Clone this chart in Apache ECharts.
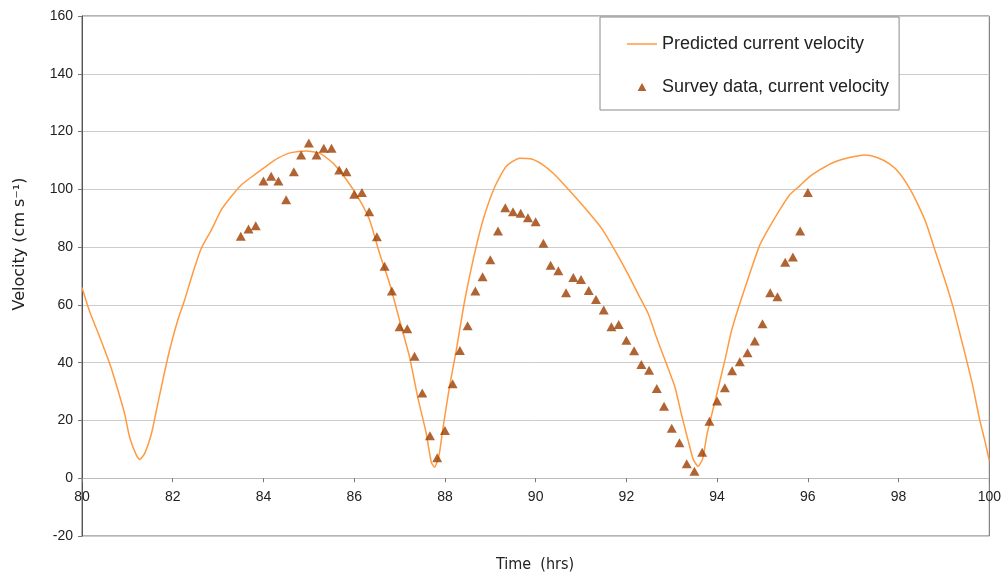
<!DOCTYPE html>
<html>
<head>
<meta charset="utf-8">
<title>Current velocity</title>
<script src="https://cdn.jsdelivr.net/npm/echarts@6.0.0/dist/echarts.min.js"></script>
<style>
  html, body { margin: 0; padding: 0; background: #ffffff; }
  #chart { width: 1004px; height: 575px; }
</style>
</head>
<body>
<div id="chart"></div>
<script>
// Model output: predicted current velocity (cm/s) against time (hrs)
var predTime = [
  80.00, 80.17, 80.39, 80.61, 80.75, 80.94, 81.05, 81.20, 81.27, 81.38,
  81.53, 81.64, 81.78, 81.93, 82.11, 82.26, 82.44, 82.63, 82.85, 83.07,
  83.29, 83.51, 83.80, 84.10, 84.32, 84.61, 84.94, 85.24, 85.53, 85.83,
  86.12, 86.34, 86.56, 86.78, 87.00, 87.22, 87.40, 87.59, 87.70, 87.77,
  87.87, 87.96, 88.10, 88.25, 88.43, 88.62, 88.84, 89.10, 89.35, 89.65,
  89.91, 90.16, 90.40, 90.75, 91.12, 91.48, 91.76, 92.03, 92.27, 92.48,
  92.66, 92.88, 93.07, 93.21, 93.36, 93.47, 93.58, 93.68, 93.78, 93.96,
  94.17, 94.32, 94.50, 94.72, 94.94, 95.16, 95.38, 95.60, 95.82, 96.04,
  96.26, 96.56, 96.92, 97.25, 97.51, 97.80, 98.02, 98.24, 98.43, 98.61,
  98.80, 99.02, 99.20, 99.35, 99.50, 99.64, 99.79, 99.90, 100.00
];
var predVelocity = [
  66.0, 57.6, 48.9, 39.7, 32.7, 22.3, 14.2, 7.9, 6.5, 8.5,
  15.4, 23.5, 33.9, 44.3, 54.7, 61.6, 70.9, 79.6, 85.9, 92.9,
  97.5, 101.5, 105.0, 108.5, 110.8, 112.7, 113.3, 112.5, 109.1, 103.3,
  96.3, 89.4, 77.8, 67.4, 54.7, 42.0, 28.1, 15.4, 5.5, 3.8,
  7.9, 17.7, 31.6, 44.3, 61.0, 75.5, 89.4, 100.9, 107.9, 110.8,
  110.5, 108.5, 105.4, 99.5, 92.9, 85.9, 78.5, 70.8, 63.4, 57.0,
  48.9, 39.7, 31.6, 22.3, 13.1, 6.7, 4.1, 6.7, 15.4, 27.0,
  40.8, 51.2, 60.5, 70.9, 80.7, 87.1, 92.9, 98.1, 101.2, 104.4,
  106.7, 109.3, 111.0, 111.9, 111.1, 108.8, 105.6, 100.4, 94.6, 88.2,
  79.0, 68.6, 59.3, 50.1, 40.8, 31.6, 20.0, 13.1, 6.0
];

// Survey measurements, 10-minute sampling
var surveyTime = [
  83.5, 83.67, 83.83, 84, 84.17, 84.33, 84.5, 84.67, 84.83, 85,
  85.17, 85.33, 85.5, 85.67, 85.83, 86, 86.17, 86.33, 86.5, 86.67,
  86.83, 87, 87.17, 87.33, 87.5, 87.67, 87.83, 88, 88.17, 88.33,
  88.5, 88.67, 88.83, 89, 89.17, 89.33, 89.5, 89.67, 89.83, 90,
  90.17, 90.33, 90.5, 90.67, 90.83, 91, 91.17, 91.33, 91.5, 91.67,
  91.83, 92, 92.17, 92.33, 92.5, 92.67, 92.83, 93, 93.17, 93.33,
  93.5, 93.67, 93.83, 94, 94.17, 94.33, 94.5, 94.67, 94.83, 95,
  95.17, 95.33, 95.5, 95.67, 95.83, 96
];
var surveyVelocity = [
  83.8, 86.3, 87.4, 102.9, 104.5, 102.9, 96.4, 106.1, 111.9, 116.0,
  111.9, 114.2, 114.2, 106.7, 106.1, 98.3, 98.9, 92.2, 83.6, 73.4,
  64.8, 52.4, 51.7, 42.2, 29.5, 14.7, 7.1, 16.5, 32.7, 44.2,
  52.8, 64.8, 69.7, 75.6, 85.6, 93.6, 92.2, 91.7, 90.2, 88.8,
  81.3, 73.7, 71.8, 64.2, 69.5, 68.8, 65.0, 61.9, 58.2, 52.4,
  53.2, 47.8, 44.1, 39.4, 37.4, 31.1, 24.9, 17.3, 12.3, 5.0,
  2.4, 9.0, 19.7, 26.7, 31.3, 37.2, 40.3, 43.4, 47.5, 53.5,
  64.2, 62.8, 74.8, 76.6, 85.6, 98.9
];

var seriesNames = ['Predicted current velocity', 'Survey data, current velocity'];
var xTitle = 'Time  (hrs)';
var yTitle = 'Velocity (cm s\u207B\u00B9)';

var yMin = -20, yMax = 160;
var gridTop = 16, gridBottom = 39, chartHeight = 575;

var predPairs = predTime.map(function (t, i) { return [t, predVelocity[i]]; });
var surveyPairs = surveyTime.map(function (t, i) { return [t, surveyVelocity[i]]; });

// The time axis sits on the zero line, so lift it from the grid bottom by the height of (0 - yMin)
var plotHeight = chartHeight - gridTop - gridBottom;
var zeroLift = plotHeight * (0 - yMin) / (yMax - yMin);

var labelFont = '"Liberation Sans", Arial, sans-serif';
var lineColor = '#ff9a40';
var markColor = '#9e3d00';

var chart = echarts.init(document.getElementById('chart'), null, { renderer: 'canvas' });
chart.setOption({
  animation: false,
  backgroundColor: '#ffffff',
  grid: {
    left: 82, right: 14, top: gridTop, bottom: gridBottom,
    show: true, borderColor: '#6a6a6a', borderWidth: 1, backgroundColor: 'transparent'
  },
  legend: {
    orient: 'vertical',
    left: 600, top: 17,
    padding: [18, 10, 14, 27],
    itemGap: 25,
    itemWidth: 30, itemHeight: 8,
    symbolKeepAspect: true,
    backgroundColor: '#ffffff',
    borderColor: '#8a8a8a', borderWidth: 1,
    textStyle: { fontSize: 18, color: '#222222', fontFamily: labelFont },
    data: [
      { name: seriesNames[0], icon: 'path://M0,0 L30,0 L30,1.5 L0,1.5 Z',
        itemStyle: { color: lineColor, borderWidth: 0 } },
      { name: seriesNames[1], icon: 'path://M5,0 L10,9 L0,9 Z',
        itemStyle: { color: markColor, borderWidth: 0 } }
    ]
  },
  xAxis: {
    type: 'value', min: 80, max: 100, interval: 2,
    position: 'bottom',
    offset: -zeroLift,
    axisLine: { show: true, onZero: false, lineStyle: { color: '#bdbdbd', width: 1 } },
    axisTick: { show: true, length: 4, lineStyle: { color: '#777777' } },
    axisLabel: { color: '#222222', fontSize: 14, fontFamily: labelFont, margin: 12 },
    splitLine: { show: false }
  },
  yAxis: {
    type: 'value', min: yMin, max: yMax, interval: 20,
    axisLine: { show: true, lineStyle: { color: '#555555', width: 1 } },
    axisTick: { show: true, length: 4, lineStyle: { color: '#777777' } },
    axisLabel: { color: '#222222', fontSize: 14, fontFamily: labelFont, margin: 9 },
    splitLine: { show: true, lineStyle: { color: '#cccccc', width: 1 } }
  },
  graphic: [
    {
      type: 'text', x: 20, y: 244, rotation: Math.PI / 2,
      style: {
        text: yTitle, fill: '#222222', align: 'center', verticalAlign: 'middle',
        font: '16px "DejaVu Sans", sans-serif'
      }
    },
    {
      type: 'text', x: 535, y: 565,
      style: {
        text: xTitle, fill: '#222222', align: 'center', verticalAlign: 'middle',
        font: '16px "DejaVu Sans Condensed", "DejaVu Sans", sans-serif'
      }
    }
  ],
  series: [
    {
      name: seriesNames[0], type: 'line', data: predPairs,
      symbol: 'none', smooth: 0.2,
      lineStyle: { color: lineColor, width: 1.5 },
      itemStyle: { color: lineColor },
      z: 2
    },
    {
      name: seriesNames[1], type: 'scatter', data: surveyPairs,
      symbol: 'triangle', symbolSize: [10, 9],
      itemStyle: { color: markColor },
      z: 3
    }
  ]
});
</script>
</body>
</html>
